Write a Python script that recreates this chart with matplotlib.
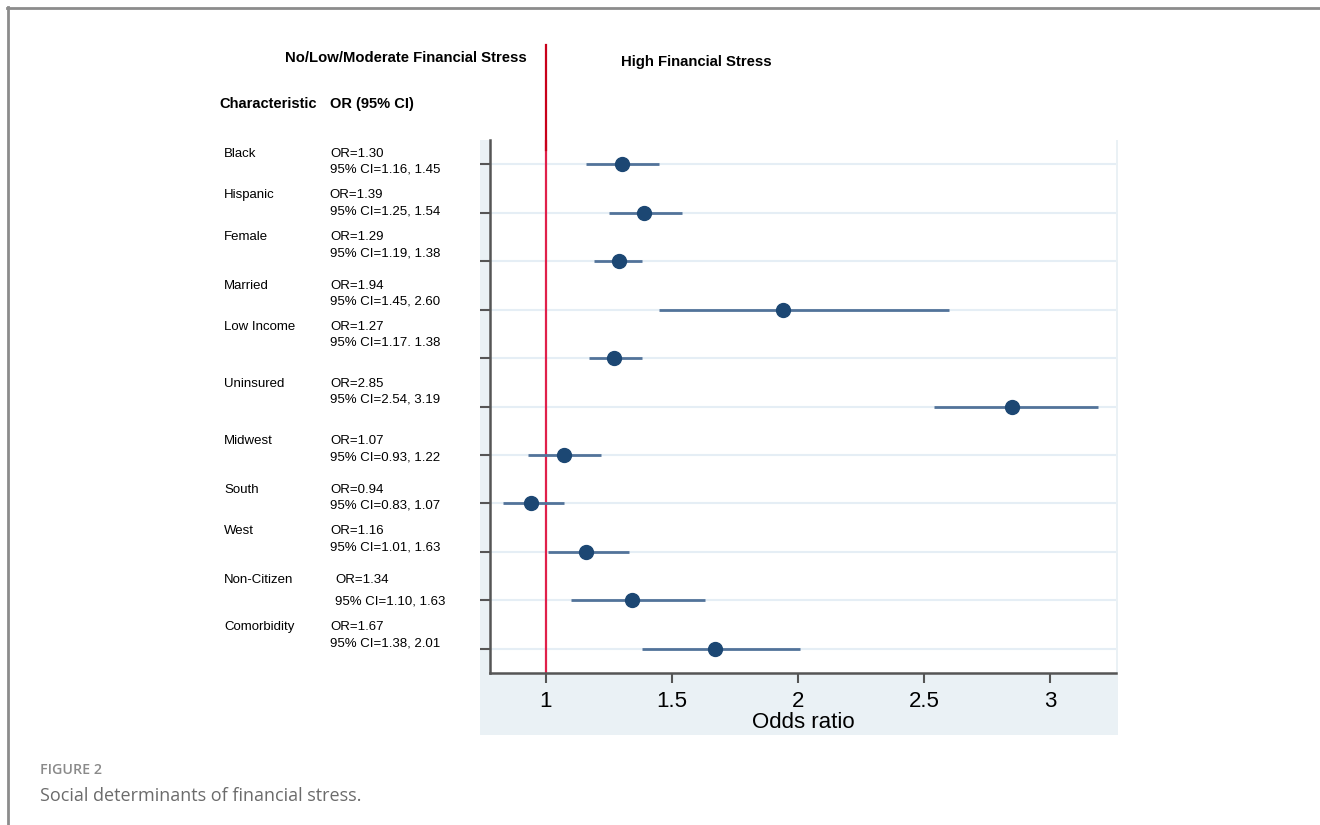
import matplotlib.pyplot as plt
from matplotlib.patches import Rectangle
from matplotlib.transforms import blended_transform_factory

# data
characteristics = ["Black", "Hispanic", "Female", "Married", "Low Income", "Uninsured",
                   "Midwest", "South", "West", "Non-Citizen", "Comorbidity"]
odds_ratio = [1.30, 1.39, 1.29, 1.94, 1.27, 2.85, 1.07, 0.94, 1.16, 1.34, 1.67]
# whisker ends as drawn in the figure (West bar stops near 1.33)
ci_low = [1.16, 1.25, 1.19, 1.45, 1.17, 2.54, 0.93, 0.83, 1.01, 1.10, 1.38]
ci_high = [1.45, 1.54, 1.38, 2.60, 1.38, 3.19, 1.22, 1.07, 1.33, 1.63, 2.01]
or_text = ["OR=1.30", "OR=1.39", "OR=1.29", "OR=1.94", "OR=1.27", "OR=2.85",
           "OR=1.07", "OR=0.94", "OR=1.16", "OR=1.34", "OR=1.67"]
ci_text = ["95% CI=1.16, 1.45", "95% CI=1.25, 1.54", "95% CI=1.19, 1.38",
           "95% CI=1.45, 2.60", "95% CI=1.17. 1.38", "95% CI=2.54, 3.19",
           "95% CI=0.93, 1.22", "95% CI=0.83, 1.07", "95% CI=1.01, 1.63",
           "95% CI=1.10, 1.63", "95% CI=1.38, 2.01"]
x_ticks = [1, 1.5, 2, 2.5, 3]
x_ticklabels = ["1", "1.5", "2", "2.5", "3"]

# layout of the left text column (pixel rows, as in the original figure)
label_y = [154, 195, 237, 286, 327, 384, 441, 490, 531, 580, 627]
ci_y = [170, 211, 253, 302, 343, 400, 457, 506, 547, 601, 643]
or_x = [330, 329, 330, 330, 330, 330, 330, 330, 330, 335, 330]
ci_x = [330, 330, 330, 330, 330, 330, 330, 330, 330, 335, 330]

W, H = 1320, 825
plt.rcParams['font.family'] = ['Liberation Sans', 'DejaVu Sans']


def px(x, y):
    return x / W, 1 - y / H


fig = plt.figure(figsize=(13.2, 8.25), dpi=100)

# page frame lines
fig.add_artist(plt.Line2D([7 / W, 1], [1 - 7.5 / H] * 2, color="#8c8c8c", lw=2))
fig.add_artist(plt.Line2D([7.5 / W] * 2, [0, 1 - 7 / H], color="#8c8c8c", lw=2))

# light panel behind the plot
fig.add_artist(Rectangle(px(480, 735), 638 / W, 595 / H, transform=fig.transFigure,
                         facecolor="#eaf1f5", edgecolor="none", zorder=0))

ax = fig.add_axes([490 / W, 1 - 673 / H, 626 / W, 533 / H])
ax.set_facecolor("white")

rows = list(range(len(characteristics)))
for r in rows:
    ax.axhline(r, color="#e5eef5", lw=1.5, zorder=0)

ax.axvline(1, color="#e0204a", lw=1.6, zorder=1)
# red line continues above the plot
trans = blended_transform_factory(ax.transData, fig.transFigure)
ax.plot([1, 1], [1 - 150 / H, 1 - 45 / H], color="#c8001a", lw=1.6,
        transform=trans, clip_on=False)

err_lo = [o - l for o, l in zip(odds_ratio, ci_low)]
err_hi = [h - o for o, h in zip(odds_ratio, ci_high)]
ax.errorbar(odds_ratio, rows, xerr=[err_lo, err_hi], fmt='o', color="#1c4773",
            ecolor="#52739a", elinewidth=2, capsize=0, markersize=10, zorder=3)

ax.set_xlim(0.778, 3.262)
ax.set_ylim(len(rows) - 0.5, -0.5)
ax.set_yticks(rows)
ax.set_yticklabels([])
ax.set_xticks(x_ticks)
ax.set_xticklabels(x_ticklabels, fontsize=16)
ax.set_xlabel("Odds ratio", fontsize=16, labelpad=0)

for s in ["top", "right"]:
    ax.spines[s].set_visible(False)
for s in ["left", "bottom"]:
    ax.spines[s].set_color("#555555")
    ax.spines[s].set_linewidth(1.8)
ax.tick_params(axis='both', colors="#555555", length=7, width=1.5, labelcolor="black")
ax.tick_params(axis='x', pad=6)

# headers
fig.text(*px(285, 58), "No/Low/Moderate Financial Stress", fontsize=10.7, weight="bold", va="center")
fig.text(*px(621, 62), "High Financial Stress", fontsize=10.7, weight="bold", va="center")
fig.text(*px(219, 104), "Characteristic", fontsize=10.5, weight="bold", va="center")
fig.text(*px(330, 104), "OR (95% CI)", fontsize=10.5, weight="bold", va="center")

# row labels
for i, name in enumerate(characteristics):
    fig.text(*px(224, label_y[i]), name, fontsize=9.5, va="center")
    fig.text(*px(or_x[i], label_y[i]), or_text[i], fontsize=9.5, va="center")
    fig.text(*px(ci_x[i], ci_y[i]), ci_text[i], fontsize=9.5, va="center")

# caption
fig.text(*px(40, 770), "FIGURE 2", fontsize=10.3, color="#8a8a8a", va="center",
         weight="semibold", family=["Open Sans", "DejaVu Sans"])
fig.text(*px(40, 796), "Social determinants of financial stress.", fontsize=13,
         color="#6b6b6b", va="center", family=["Open Sans", "DejaVu Sans"])

fig.savefig("out.png", dpi=100)
